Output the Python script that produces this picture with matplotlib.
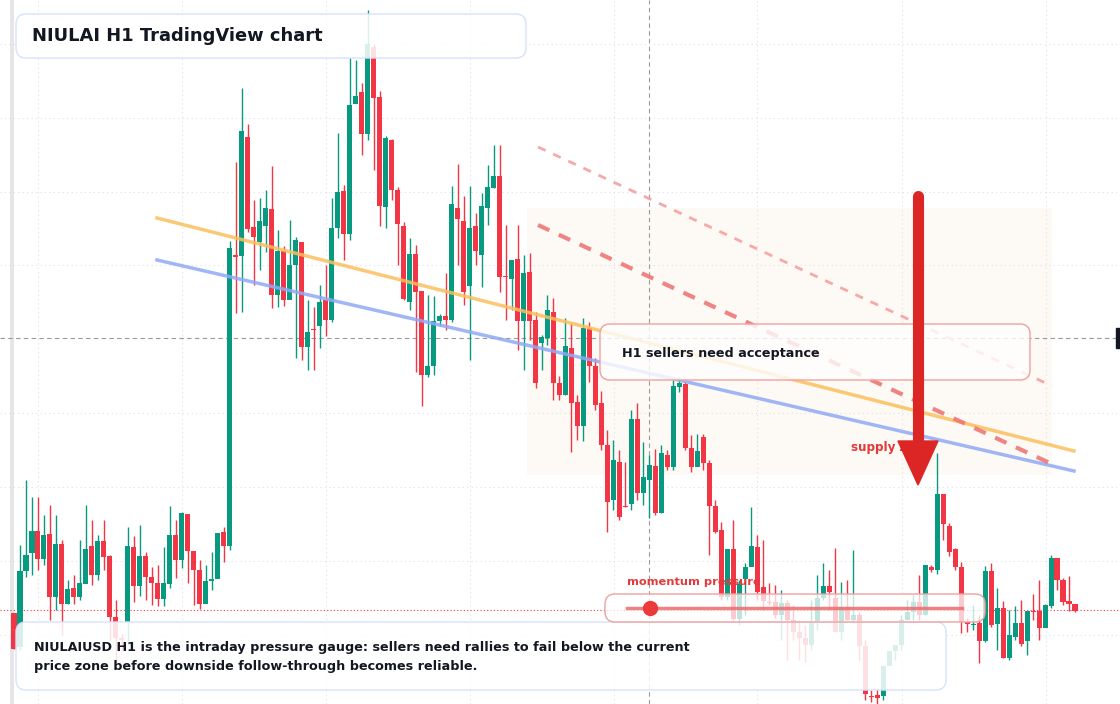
import matplotlib
matplotlib.use("Agg")
import matplotlib.pyplot as plt
from matplotlib.patches import FancyBboxPatch, Rectangle

# Candle data (vertical level values as read on the chart scale, top = 0)
opens = [613,647,571,553,531,559,534,597,544,604,588,597,584,546,575,541,556,617,638,622,547,586,556,577,583,599,584,535,560,514,551,570,604,581,579,532,
         546,255,256,137,227,242,226,209,295,251,300,265,242,347,329,326,300,320,228,191,234,104,92,134,47,97,207,140,190,226,302,254,291,375,366,321,316,320,208,221,286,226,255,208,188,176,276,279,259,321,272,320,343,338,312,383,
         395,348,402,426,328,366,403,445,500,462,506,504,419,493,480,466,513,455,467,387,384,448,467,437,463,506,530,597,549,619,579,567,547,587,602,602,615,603,620,632,638,645,621,598,586,598,632,607,620,615,646,696,695,696,666,651,645,620,612,602,615,567,570,494,526,549,567,622,625,623,641,571,624,608,658,637,623,641,611,611,628,606,558,580,601,604]
closes = [649,571,555,531,559,535,597,544,604,589,597,583,549,575,541,557,617,638,640,546,586,556,577,583,599,583,535,560,513,551,570,604,581,579,533,546,
          248,257,131,229,237,221,208,295,251,300,265,240,347,332,330,302,320,228,192,234,105,96,134,44,98,206,138,190,224,299,254,292,375,366,321,316,320,204,219,292,228,251,206,187,176,277,277,260,321,273,321,383,337,310,383,395,
          346,403,426,328,366,405,445,502,460,517,507,419,493,477,465,513,453,467,386,383,448,467,451,463,506,532,597,549,619,584,567,546,592,601,603,615,603,620,632,638,645,621,598,586,592,632,607,620,615,646,694,697,698,666,651,645,620,612,602,615,565,570,494,524,552,567,622,624,624,641,571,625,608,658,635,623,644,611,612,628,605,558,580,602,604,611]
highs = [613,545,480,497,497,515,505,515,540,580,575,540,505,520,535,520,555,600,634,527,536,525,552,567,565,547,506,520,512,525,560,560,565,552,533,527,
         241,162,88,124,200,198,190,166,230,246,220,237,272,300,307,285,265,198,133,185,58,60,83,10,44,91,136,139,187,222,238,245,291,295,296,314,273,186,164,196,186,213,193,165,145,145,225,260,225,255,253,312,335,295,298,376,
         318,323,395,318,322,358,391,430,440,450,462,410,403,442,455,449,445,450,380,377,382,435,434,434,460,500,522,550,520,580,563,507,535,540,583,585,590,600,605,620,625,600,575,563,570,548,582,580,550,612,640,690,688,666,651,648,615,600,595,575,565,565,453,494,523,548,562,618,605,615,566,563,588,601,610,606,600,611,594,580,604,555,558,578,576,604]
lows = [649,650,577,575,570,565,620,610,635,604,604,600,582,585,580,570,640,666,650,645,602,596,600,605,606,606,588,578,568,583,605,609,595,590,575,562,
        550,313,312,232,285,270,252,308,307,306,285,358,360,370,370,348,336,322,238,260,240,100,155,140,170,226,228,200,265,300,310,372,406,377,375,326,330,322,265,305,360,265,287,225,188,292,320,310,350,370,340,388,370,345,400,400,
        395,452,440,441,382,410,450,532,510,520,507,510,500,505,518,515,513,470,470,392,450,472,464,470,555,533,600,600,620,625,615,563,600,610,605,618,640,660,640,660,662,650,630,600,610,632,640,620,623,660,700,702,704,700,662,660,650,620,620,620,615,572,574,540,556,570,633,632,630,663,642,627,650,658,660,640,646,655,620,640,610,608,590,605,611,612]

title = "NIULAI H1 TradingView chart"
note = ("NIULAIUSD H1 is the intraday pressure gauge: sellers need rallies to fail below the current\n"
        "price zone before downside follow-through becomes reliable.")

GREEN, RED = "#089981", "#f23645"
n = min(len(opens), len(closes), len(highs), len(lows))
W, H = 1120, 704
fig = plt.figure(figsize=(W/100, H/100), dpi=100)
fig.patch.set_facecolor("white")
ax = fig.add_axes([0, 0, 1, 1])
x0, x1 = 14, 1075
s = (x1 - x0) / (n - 1)
ax.set_xlim(-x0 / s, (W - x0) / s)
ax.set_ylim(H, 0)
ax.axis("off")
ax.patch.set_alpha(0)

ov = fig.add_axes([0, 0, 1, 1], zorder=5)
ov.set_xlim(0, W); ov.set_ylim(H, 0); ov.axis("off"); ov.patch.set_alpha(0)
bg = fig.add_axes([0, 0, 1, 1], zorder=-1)
bg.set_xlim(0, W); bg.set_ylim(H, 0); bg.axis("off")

for gx in [38, 182, 326, 470, 614, 757, 902, 1046]:
    bg.axvline(gx, color="#e0e0e0", lw=0.8, ls=(0, (1, 3)))
for gy in [44, 118, 192, 265, 413, 487, 561, 635]:
    bg.axhline(gy, color="#e0e0e0", lw=0.8, ls=(0, (1, 3)))
bg.add_patch(Rectangle((10, 0), 4, H, color="#e6e6e6", lw=0))
bg.add_patch(Rectangle((527, 208), 525, 267, color="#fdf5ee", alpha=0.6, lw=0))
bg.axhline(338, color="#9a9a9a", lw=0.8, ls=(0, (4, 3)))
bg.axvline(649, color="#9a9a9a", lw=0.8, ls=(0, (4, 3)))
bg.axhline(610, color="#f23645", lw=0.8, ls=(0, (1, 2)))

for i in range(n):
    o, c, h, l = opens[i], closes[i], highs[i], lows[i]
    col = GREEN if c <= o else RED
    ax.vlines(i, h, l, color=col, lw=1, zorder=2)
    top, bot = min(o, c), max(o, c)
    ax.add_patch(Rectangle((i - 0.42, top), 0.84, max(bot - top, 1.2), color=col, lw=0, zorder=3))

ov.plot([157, 1074], [218, 451], color="#fbbf5d", lw=2.5, alpha=0.85)
ov.plot([157, 1074], [260, 471], color="#8fa9f5", lw=2.5, alpha=0.85)
ov.plot([538, 1054], [225, 465], color="#ee7777", lw=3, ls=(0, (3, 2.5)), alpha=0.9)
ov.plot([538, 1052], [147, 386], color="#f6a0a0", lw=2, ls=(0, (3, 3)), alpha=0.9)

def box(x, y, w, h, ec, fa=0.85, lw=1):
    ov.add_patch(FancyBboxPatch((x, y), w, h, boxstyle="round,pad=0,rounding_size=10",
                                fc=(1, 1, 1, fa), ec=ec, lw=lw, zorder=6))

box(16, 14, 510, 44, "#d6e2fb")
ov.text(32, 36, title, fontsize=12.9, fontweight="bold", color="#131722", va="center", zorder=7)
box(600, 324, 430, 56, "#f0a0a0", fa=0.8)
ov.text(622, 353, "H1 sellers need acceptance", fontsize=9.2, fontweight="bold", color="#131722", va="center", zorder=7)
box(16, 622, 930, 68, "#d6e2fb", fa=0.85)
ov.text(34, 657, note, fontsize=9.2, fontweight="bold", color="#131722", va="center", linespacing=1.55, zorder=7)

box(605, 594, 380, 28, "#f0a0a0", fa=0.75)
ov.plot([627, 962], [608, 608], color="#ec6b6b", lw=2.5, alpha=0.85, zorder=7)
ov.plot([650], [608], "o", color="#ec3a3a", ms=10, zorder=8)
ov.text(627, 582, "momentum pressure", fontsize=8.2, fontweight="bold", color="#e5383b", va="center", zorder=7)

ov.text(851, 448, "supply zone", fontsize=8.6, fontweight="bold", color="#e5383b", va="center", zorder=7)
ov.plot([918, 918], [196, 445], color="#dc2626", lw=8, solid_capstyle="round", zorder=8)
ov.add_patch(plt.Polygon([[898, 441], [938, 441], [918, 485]], color="#dc2626", zorder=8))
ov.add_patch(Rectangle((1116, 328), 6, 20, color="#131722", zorder=8))

fig.savefig("out.png", dpi=100, facecolor="white")
